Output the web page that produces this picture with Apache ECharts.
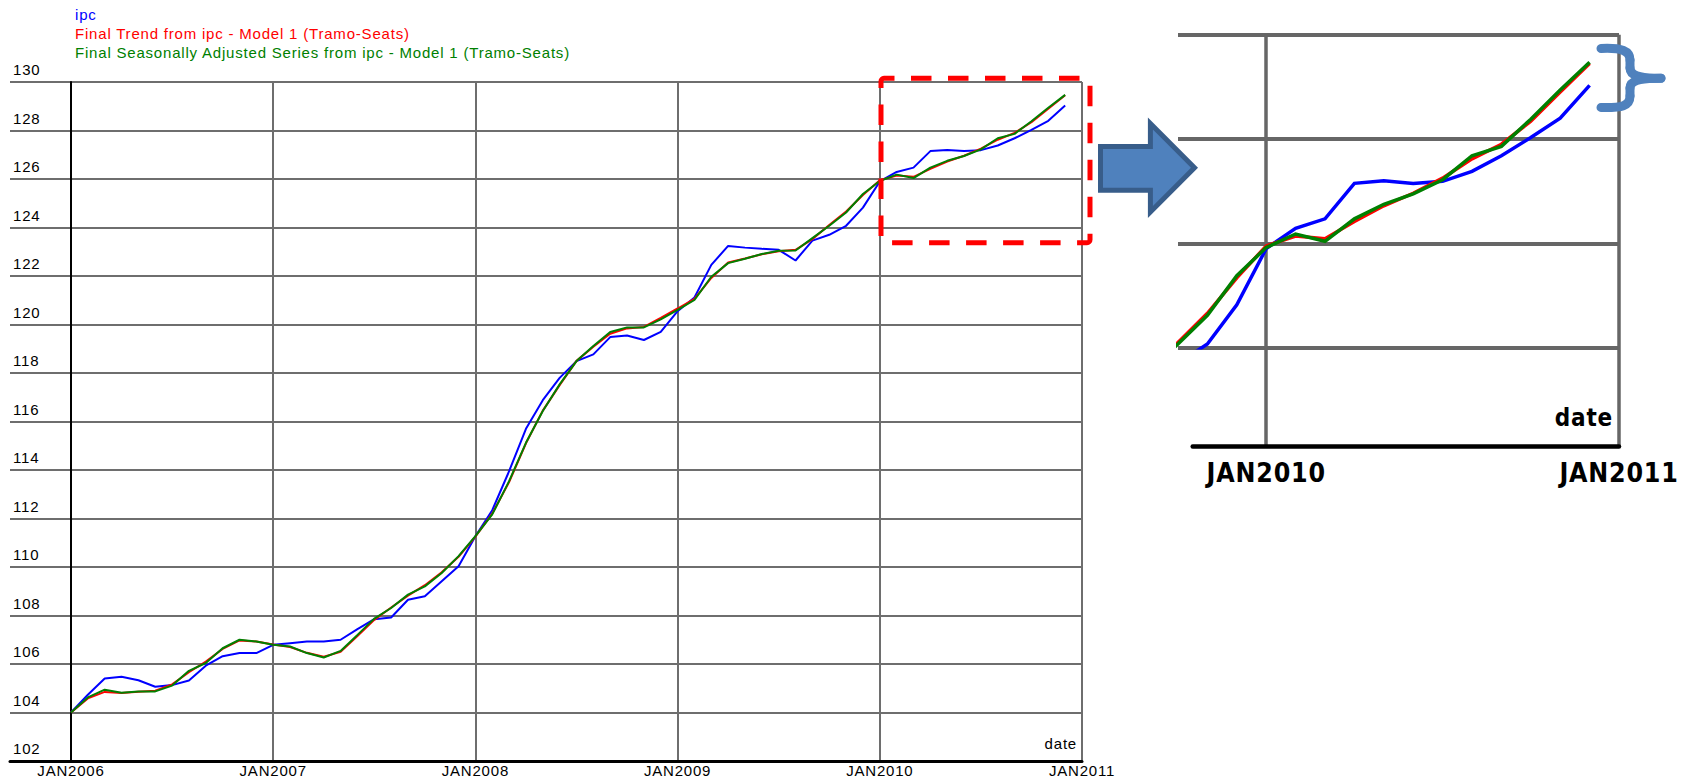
<!DOCTYPE html>
<html>
<head>
<meta charset="utf-8">
<script src="https://cdn.jsdelivr.net/npm/echarts@6.0.0/dist/echarts.min.js"></script>
<style>
html,body{margin:0;padding:0;background:#fff;}
#chart{width:1686px;height:778px;}
#chart svg text{letter-spacing:0.8px;}
</style>
</head>
<body>
<div id="chart"></div>
<script>
// ---- data ----
const seriesNames = [
  'ipc',
  'Final Trend from ipc - Model 1 (Tramo-Seats)',
  'Final Seasonally Adjusted Series from ipc - Model 1 (Tramo-Seats)'
];
const yearLabels = ['JAN2006', 'JAN2007', 'JAN2008', 'JAN2009', 'JAN2010', 'JAN2011'];
// monthly values, Jan 2006 .. Dec 2010
const ipc = [
  104.0, 104.73, 105.40, 105.47, 105.33, 105.06, 105.13, 105.32, 105.93, 106.32, 106.45, 106.45,
  106.79, 106.86, 106.93, 106.93, 107.0, 107.44, 107.85, 107.92, 108.65, 108.79, 109.41, 110.03,
  111.27, 112.34, 113.95, 115.7, 116.88, 117.8, 118.49, 118.77, 119.48, 119.55, 119.36, 119.7,
  120.55, 121.11, 122.46, 123.24, 123.17, 123.12, 123.08, 122.64, 123.46, 123.70, 124.07, 124.82,
  125.9, 126.29, 126.47, 127.15, 127.2, 127.15, 127.19, 127.38, 127.68, 128.03, 128.4, 129.03
];
const trend = [
  104.0, 104.58, 104.85, 104.8, 104.86, 104.9, 105.16, 105.66, 106.1, 106.62, 106.97, 106.93,
  106.8, 106.7, 106.46, 106.3, 106.5, 107.15, 107.82, 108.33, 108.82, 109.25, 109.78, 110.42,
  111.25, 112.2, 113.5, 115.1, 116.45, 117.5, 118.5, 119.08, 119.62, 119.84, 119.9, 120.27,
  120.66, 121.06, 121.92, 122.56, 122.72, 122.9, 123.02, 123.08, 123.52, 124.1, 124.66, 125.34,
  125.95, 126.14, 126.09, 126.42, 126.72, 126.96, 127.25, 127.62, 127.9, 128.34, 128.9, 129.45
];
const seasAdj = [
  104.0, 104.62, 104.94, 104.81, 104.87, 104.87, 105.11, 105.72, 106.04, 106.65, 107.0, 106.93,
  106.79, 106.72, 106.45, 106.27, 106.54, 107.2, 107.87, 108.31, 108.86, 109.2, 109.75, 110.45,
  111.27, 112.17, 113.54, 115.12, 116.43, 117.53, 118.49, 119.11, 119.69, 119.88, 119.88, 120.21,
  120.6, 121.01, 121.97, 122.53, 122.71, 122.91, 123.04, 123.05, 123.56, 124.07, 124.62, 125.38,
  125.92, 126.18, 126.04, 126.47, 126.75, 126.95, 127.22, 127.68, 127.86, 128.38, 128.94, 129.47
];

// ---- chart ----
const colors = ['#0000ff', '#ff0000', '#008000'];
const dataSets = [ipc, trend, seasAdj];
const gridGray = '#6e6e6e';
const insetGray = '#666666';
const tr = 'rgba(0,0,0,0)';
const baseFont = '"Liberation Sans", Arial, sans-serif';
const pixFont = '"DejaVu Sans Condensed", "DejaVu Sans", sans-serif';

function pairs(arr) { return arr.map((v, i) => [i, v]); }

const mainSeries = dataSets.map((d, k) => ({
  type: 'line', name: seriesNames[k], xAxisIndex: 1, yAxisIndex: 1,
  data: pairs(d), symbol: 'none', showSymbol: false, silent: true,
  lineStyle: { color: colors[k], width: 2 }, itemStyle: { color: colors[k] }, z: 2 + k
}));
const insetSeries = dataSets.map((d, k) => ({
  type: 'line', name: seriesNames[k], xAxisIndex: 3, yAxisIndex: 3,
  data: pairs(d), symbol: 'none', showSymbol: false, silent: true, clip: true,
  lineStyle: { color: colors[k], width: 3.5, cap: 'butt', join: 'miter' }, itemStyle: { color: colors[k] }, z: 2 + k
}));

const braceStyle = { fill: 'none', stroke: '#4f81bd', lineWidth: 9, lineCap: 'round' };

const chart = echarts.init(document.getElementById('chart'), null, { renderer: 'svg' });
const option = {
  animation: false,
  backgroundColor: '#ffffff',
  textStyle: { fontFamily: baseFont },
  legend: {
    orient: 'vertical', left: 65, top: 2, itemGap: 4, itemWidth: 0, itemHeight: 15,
    icon: 'none', selectedMode: false,
    textStyle: { fontSize: 15, fontFamily: baseFont },
    data: seriesNames.map((n, k) => ({ name: n, textStyle: { color: colors[k] } }))
  },
  grid: [
    { left: 10, top: 82, width: 1072, height: 679 },        // background (horizontal lines, y labels)
    { left: 71, top: 82, width: 1011, height: 679 },        // main plot
    { left: 1178, top: 34.7, width: 441, height: 411.3 },   // inset vertical lines
    { left: 1178, top: 34.7, width: 441, height: 313 },     // inset data
    { left: 1192.7, top: 390, width: 426.3, height: 56 }    // inset bottom axis
  ],
  xAxis: [
    { gridIndex: 0, type: 'value', min: 0, max: 1, z: 1,
      axisLine: { show: true, onZero: false, lineStyle: { color: '#000', width: 3 } },
      axisTick: { show: false }, axisLabel: { show: false }, splitLine: { show: false } },
    { gridIndex: 1, type: 'value', min: 0, max: 60, interval: 12,
      axisLine: { show: false }, axisTick: { show: false },
      splitLine: { show: true, lineStyle: { color: gridGray, width: 2 } },
      axisLabel: { margin: 2, fontSize: 15, color: '#000', fontFamily: baseFont,
        formatter: v => yearLabels[Math.round(v / 12)] },
      name: 'date', nameLocation: 'end', nameGap: -5,
      nameTextStyle: { fontSize: 15, color: '#000', fontFamily: baseFont, align: 'right',
        verticalAlign: 'bottom', padding: [0, 0, 10, 0] } },
    { gridIndex: 2, type: 'value', min: 45, max: 60, interval: 3,
      axisLine: { show: false }, axisTick: { show: false }, axisLabel: { show: false },
      splitLine: { show: true, lineStyle: { color: [tr, insetGray, tr, tr, tr, insetGray], width: 3.5 } } },
    { gridIndex: 3, type: 'value', min: 45, max: 60, show: false },
    { gridIndex: 4, type: 'value', min: 45.5, max: 60, interval: 0.5,
      axisLine: { show: true, onZero: false, lineStyle: { color: '#000', width: 4.5 } },
      axisTick: { show: false }, splitLine: { show: false },
      axisLabel: { margin: 13, fontSize: 26.5, fontWeight: 'bold', color: '#000', fontFamily: pixFont,
        formatter: v => Math.abs(v - 48) < 1e-6 ? yearLabels[4] : (Math.abs(v - 60) < 1e-6 ? yearLabels[5] : '') },
      name: 'date', nameLocation: 'end', nameGap: -6,
      nameTextStyle: { fontSize: 24, fontWeight: 'bold', color: '#000', fontFamily: pixFont, align: 'right',
        verticalAlign: 'bottom', padding: [0, 0, 16, 0] } }
  ],
  yAxis: [
    { gridIndex: 0, type: 'value', min: 102, max: 130, interval: 2,
      axisLine: { show: false }, axisTick: { show: false },
      splitLine: { show: true, lineStyle: { color: gridGray, width: 2 } },
      axisLabel: { inside: true, margin: 3, fontSize: 15, color: '#000', fontFamily: baseFont,
        verticalAlign: 'bottom', padding: [0, 0, 5, 0] } },
    { gridIndex: 1, type: 'value', min: 102, max: 130, interval: 2,
      axisLine: { show: true, onZero: false, lineStyle: { color: '#000', width: 2 } },
      axisTick: { show: false }, axisLabel: { show: false }, splitLine: { show: false } },
    { gridIndex: 2, type: 'value', min: 0, max: 1, show: false },
    { gridIndex: 3, type: 'value', min: 124, max: 130, interval: 2,
      axisLine: { show: false }, axisTick: { show: false }, axisLabel: { show: false },
      splitLine: { show: true, lineStyle: { color: insetGray, width: 4 } } },
    { gridIndex: 4, type: 'value', min: 0, max: 1, show: false }
  ],
  series: mainSeries.concat(insetSeries),
  graphic: [
    { type: 'rect', z: 100, silent: true,
      shape: { x: 881, y: 78.3, width: 209, height: 164.4, r: 3 },
      style: { fill: 'none', stroke: '#ff0000', lineWidth: 5, lineDash: [20.5, 16.5], lineDashOffset: 9.5 } },
    { type: 'polygon', z: 100, silent: true,
      shape: { points: [[1100.5, 146.5], [1150.4, 146.5], [1150.4, 123.5], [1194.5, 167.7], [1150.4, 212], [1150.4, 190.2], [1100.5, 190.2]] },
      style: { fill: '#4f81bd', stroke: '#385d8a', lineWidth: 5, lineJoin: 'miter' } },
    { type: 'bezierCurve', z: 100, silent: true,
      shape: { x1: 1601, y1: 48.5, cpx1: 1622, cpy1: 47.5, cpx2: 1630, cpy2: 51, x2: 1630, y2: 60 },
      style: braceStyle },
    { type: 'line', z: 100, silent: true,
      shape: { x1: 1630, y1: 60, x2: 1630, y2: 68 }, style: braceStyle },
    { type: 'bezierCurve', z: 100, silent: true,
      shape: { x1: 1630, y1: 68, cpx1: 1630, cpy1: 76, cpx2: 1640, cpy2: 78.3, x2: 1661, y2: 78.3 },
      style: braceStyle },
    { type: 'bezierCurve', z: 100, silent: true,
      shape: { x1: 1661, y1: 78.3, cpx1: 1640, cpy1: 78.3, cpx2: 1630, cpy2: 80.5, x2: 1630, y2: 88 },
      style: braceStyle },
    { type: 'line', z: 100, silent: true,
      shape: { x1: 1630, y1: 88, x2: 1630, y2: 96 }, style: braceStyle },
    { type: 'bezierCurve', z: 100, silent: true,
      shape: { x1: 1630, y1: 96, cpx1: 1630, cpy1: 106, cpx2: 1622, cpy2: 108, x2: 1601, y2: 107.5 },
      style: braceStyle }
  ]
};
chart.setOption(option);
</script>
</body>
</html>
